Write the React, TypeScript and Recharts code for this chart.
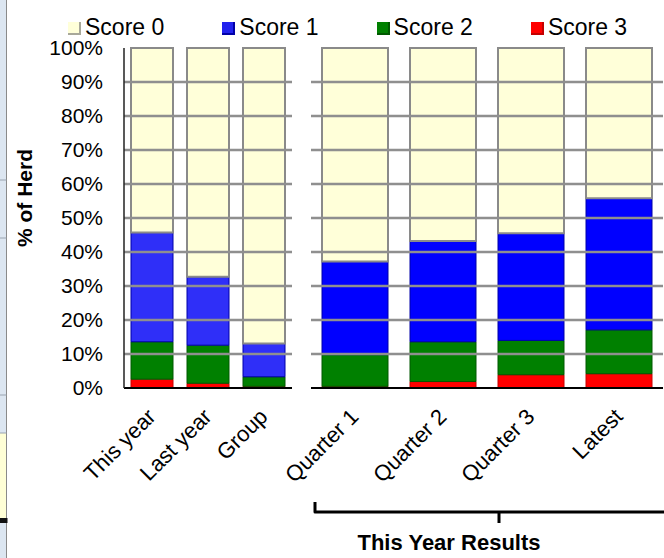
import { Bar, BarChart, ReferenceLine, XAxis, YAxis } from "recharts";

const seriesNames = ["Score 0", "Score 1", "Score 2", "Score 3"];

const overviewCategories = ["This year", "Last year", "Group"];
const overviewScore0 = [54.3, 67.3, 86.9];
const overviewScore1 = [32.1, 20.1, 9.8];
const overviewScore2 = [11.0, 11.2, 2.8];
const overviewScore3 = [2.6, 1.4, 0.5];

const quarterCategories = ["Quarter 1", "Quarter 2", "Quarter 3", "Latest"];
const quarterScore0 = [62.8, 56.8, 54.5, 44.2];
const quarterScore1 = [27.4, 29.6, 31.5, 38.7];
const quarterScore2 = [9.3, 11.7, 10.1, 12.9];
const quarterScore3 = [0.5, 1.9, 3.9, 4.2];

const yTicks = [0, 10, 20, 30, 40, 50, 60, 70, 80, 90, 100];
const innerTicks = [10, 20, 30, 40, 50, 60, 70, 80, 90];

const FONT = "'Liberation Sans', Arial, Helvetica, sans-serif";

const fills = ["#ffffd9", "#0000ff", "#008000", "#ff0000"];
const strokes = ["#8a8a8a", "#0000a8", "#005800", "#c40000"];

const buildRows = (cats: string[], s0: number[], s1: number[], s2: number[], s3: number[]) =>
  cats.map((name, i) => ({ name, s0: s0[i], s1: s1[i], s2: s2[i], s3: s3[i] }));

const overviewRows = buildRows(overviewCategories, overviewScore0, overviewScore1, overviewScore2, overviewScore3);
const quarterRows = buildRows(quarterCategories, quarterScore0, quarterScore1, quarterScore2, quarterScore3);

const AngledTick = (props: any) => {
  const { x, y, payload } = props;
  return (
    <g transform={`translate(${x + 5},${y + 30}) rotate(-45)`}>
      <text x={0} y={0} textAnchor="end" fontSize={22} fill="#000" fontFamily={FONT}>
        {payload.value}
      </text>
    </g>
  );
};

// bottom segment first so that Score 3 sits at the base
const stackBars = (blue: string) =>
  ["s3", "s2", "s1", "s0"].map((key) => {
    const idx = Number(key.slice(1));
    return (
      <Bar
        key={key}
        dataKey={key}
        name={seriesNames[idx]}
        stackId="herd"
        fill={idx === 1 ? blue : fills[idx]}
        stroke={strokes[idx]}
        strokeWidth={idx === 0 ? 2 : 1}
        isAnimationActive={false}
      />
    );
  });

// solid grid under the bars, faint copy over them
const gridLines = () =>
  innerTicks.map((t) => <ReferenceLine key={`g${t}`} y={t} stroke="#8c8c8c" strokeWidth={2.5} />);

const faintLines = () =>
  innerTicks.map((t) => (
    <ReferenceLine key={`f${t}`} y={t} stroke="#a0a0a0" strokeOpacity={0.3} strokeWidth={1} />
  ));

const Legend = () => (
  <div
    style={{
      position: "absolute",
      left: 68,
      top: 14,
      display: "flex",
      fontFamily: FONT,
      fontSize: 23,
      color: "#000",
      lineHeight: "26px",
    }}
  >
    {seriesNames.map((name, i) => (
      <div key={name} style={{ width: 154.3, display: "flex", alignItems: "center" }}>
        <span
          style={{
            width: 11,
            height: 11,
            background: i === 1 ? "#2222ee" : fills[i],
            borderRight: `2px solid ${i === 0 ? "#a8a89a" : strokes[i]}`,
            borderBottom: `2px solid ${i === 0 ? "#a8a89a" : strokes[i]}`,
            marginRight: 4,
            marginTop: 2,
          }}
        />
        <span>{name}</span>
      </div>
    ))}
  </div>
);

export default function App() {
  return (
    <div
      style={{
        position: "absolute",
        left: 0,
        top: 0,
        width: 664,
        height: 558,
        background: "#fff",
        overflow: "hidden",
        fontFamily: FONT,
      }}
    >
      <div style={{ position: "absolute", left: 0, top: 0 }}>
        <BarChart
          width={664}
          height={558}
          data={overviewRows}
          margin={{ top: 48, right: 372, bottom: 60, left: 30 }}
          barCategoryGap="12.5%"
        >
          <XAxis
            dataKey="name"
            height={110}
            tickSize={0}
            tickMargin={0}
            tickLine={false}
            axisLine={{ stroke: "#000", strokeWidth: 2 }}
            tick={<AngledTick />}
            interval={0}
          />
          <XAxis xAxisId="top" dataKey="name" orientation="top" height={0} tick={false} tickLine={false} axisLine={{ stroke: "#222", strokeWidth: 1.5 }} />
          <YAxis
            domain={[0, 100]}
            ticks={yTicks}
            width={94}
            tickSize={0}
            tickMargin={21}
            tickLine={false}
            axisLine={{ stroke: "#222", strokeWidth: 1.5 }}
            tickFormatter={(v: number) => `${v}%`}
            tick={{ fontSize: 21, fill: "#000", fontFamily: FONT }}
            interval={0}
          />
          <YAxis yAxisId="r" orientation="right" width={0} domain={[0, 100]} tick={false} tickLine={false} axisLine={{ stroke: "#444", strokeWidth: 1.5 }} />
          {gridLines()}
          {stackBars("#2f2ff8")}
          {faintLines()}
        </BarChart>
      </div>
      <div style={{ position: "absolute", left: 0, top: 0 }}>
        <BarChart
          width={664}
          height={558}
          data={quarterRows}
          margin={{ top: 48, right: 1, bottom: 60, left: 311 }}
          barCategoryGap="12.5%"
        >
          <XAxis
            dataKey="name"
            height={110}
            tickSize={0}
            tickMargin={0}
            tickLine={false}
            axisLine={{ stroke: "#000", strokeWidth: 2 }}
            tick={<AngledTick />}
            interval={0}
          />
          <XAxis xAxisId="top" dataKey="name" orientation="top" height={0} tick={false} tickLine={false} axisLine={{ stroke: "#222", strokeWidth: 1.5 }} />
          <YAxis domain={[0, 100]} ticks={yTicks} width={0} tick={false} tickLine={false} axisLine={{ stroke: "#555", strokeWidth: 1.5 }} />
          {gridLines()}
          {stackBars("#0000ff")}
          {faintLines()}
        </BarChart>
      </div>
      <Legend />
      <svg width={664} height={558} style={{ position: "absolute", left: 0, top: 0, pointerEvents: "none" }}>
        <rect x={0} y={0} width={6.5} height={558} fill="#dce6f1" />
        <rect x={0} y={433} width={6.5} height={85} fill="#ffffd6" />
        <line x1={6.5} y1={0} x2={6.5} y2={558} stroke="#8a8a8a" strokeWidth={1} />
        {[180, 238, 395, 433].map((y) => (
          <line key={y} x1={0} y1={y} x2={6.5} y2={y} stroke="#9aa4b0" strokeWidth={1} />
        ))}
        <rect x={0} y={518} width={7.5} height={5} fill="#111" />
        <text
          transform="translate(32,198) rotate(-90)"
          textAnchor="middle"
          fontSize={21}
          fontWeight="bold"
          fontFamily={FONT}
          fill="#000"
        >
          % of Herd
        </text>
        <path d="M315,502 V512 H670 M499,512 V523" stroke="#000" strokeWidth={3} fill="none" strokeLinejoin="round" />
        <text x={449} y={550} textAnchor="middle" fontSize={22} fontWeight="bold" fontFamily={FONT} fill="#000">
          This Year Results
        </text>
      </svg>
    </div>
  );
}
